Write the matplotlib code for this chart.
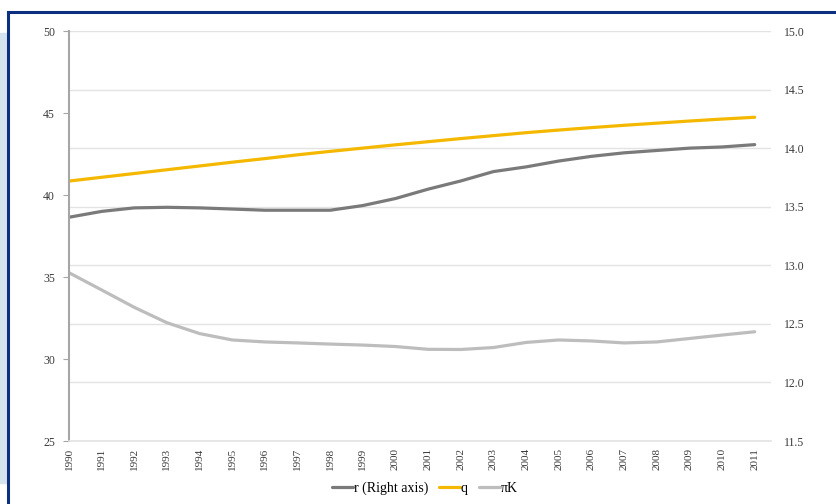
import matplotlib
matplotlib.use("Agg")
import matplotlib.pyplot as plt
from matplotlib.lines import Line2D
from matplotlib.patches import Rectangle

years = list(range(1990, 2012))
r_right = [13.41, 13.46, 13.49, 13.495, 13.49, 13.48, 13.47, 13.47, 13.47, 13.51,
           13.57, 13.65, 13.72, 13.80, 13.84, 13.89, 13.93, 13.96, 13.98, 14.00,
           14.01, 14.03]
q = [40.85, 41.08, 41.31, 41.54, 41.77, 42.00, 42.22, 42.45, 42.66, 42.86,
     43.06, 43.25, 43.44, 43.62, 43.80, 43.96, 44.11, 44.25, 44.38, 44.51,
     44.63, 44.74]
piK = [35.26, 34.21, 33.15, 32.21, 31.55, 31.16, 31.04, 30.98, 30.91, 30.85,
       30.76, 30.59, 30.58, 30.70, 31.01, 31.16, 31.10, 30.98, 31.04, 31.25,
       31.46, 31.66]
left_ticks = [25, 30, 35, 40, 45, 50]
right_ticks = [11.5, 12.0, 12.5, 13.0, 13.5, 14.0, 14.5, 15.0]

serif = ['Liberation Serif', 'DejaVu Serif']
W, H = 837, 504
fig = plt.figure(figsize=(W / 100, H / 100), dpi=100)

# page decorations: light blue strip and navy frame
fig.patches.append(Rectangle((0, 1 - 483 / H), 8 / W, (483 - 33) / H,
                             transform=fig.transFigure, color='#d5e3ee', zorder=0))
fig.add_artist(Line2D([8 / W, 8 / W], [0, 1 - 12 / H], transform=fig.transFigure,
                      color='#0d2f80', lw=2.2))
fig.add_artist(Line2D([8 / W, 1], [1 - 12 / H, 1 - 12 / H], transform=fig.transFigure,
                      color='#0d2f80', lw=2.2))

ax = fig.add_axes([69 / W, 1 - 441 / H, (771 - 69) / W, (441 - 31) / H])
ax2 = ax.twinx()

c_r, c_q, c_pk = '#7a7a7a', '#f5b800', '#bdbdbd'
l2, = ax2.plot(years, r_right, color=c_r, lw=2.3, solid_capstyle='round')
l1, = ax.plot(years, q, color=c_q, lw=2.3, solid_capstyle='round')
l3, = ax.plot(years, piK, color=c_pk, lw=2.3, solid_capstyle='round')

ax.set_xlim(1990, 2011.5)
ax.set_ylim(25, 50)
ax2.set_ylim(11.5, 15.0)

ax.set_yticks(left_ticks)
ax.set_yticklabels([str(t) for t in left_ticks], family=serif, fontsize=8.5, color='#3a3a3a')
ax2.set_yticks(right_ticks)
ax2.set_yticklabels([f'{t:.1f}' for t in right_ticks], family=serif, fontsize=8.5, color='#3a3a3a')
ax2.grid(True, color='#e3e3e3', lw=1)
ax2.set_axisbelow(True)
ax.set_zorder(ax2.get_zorder() + 1)
ax.patch.set_visible(False)

ax.set_xticks(years)
ax.set_xticklabels([str(y) for y in years], rotation=90, family=serif, fontsize=8,
                   color='#3a3a3a')
ax.tick_params(axis='x', length=0, pad=5)
ax.tick_params(axis='y', length=4, color='#a6a6a6', pad=6)
ax2.tick_params(axis='y', length=0, pad=9)

for s in ['top', 'right']:
    ax.spines[s].set_visible(False)
    ax2.spines[s].set_visible(False)
ax2.spines['left'].set_visible(False)
ax2.spines['bottom'].set_visible(False)
ax.spines['bottom'].set_color('#e3e3e3')
ax.spines['bottom'].set_linewidth(1.2)
ax.spines['left'].set_color('#a6a6a6')
ax.spines['left'].set_linewidth(1.5)

fig.legend([l2, l1, l3], ['r (Right axis)', 'q', 'πK'], loc='center',
           bbox_to_anchor=(425 / W, 1 - 488 / H), ncol=3, frameon=False,
           prop={'family': serif, 'size': 10}, handlelength=1.5, handletextpad=0.05,
           columnspacing=0.8)

fig.savefig('out.png', dpi=100)
